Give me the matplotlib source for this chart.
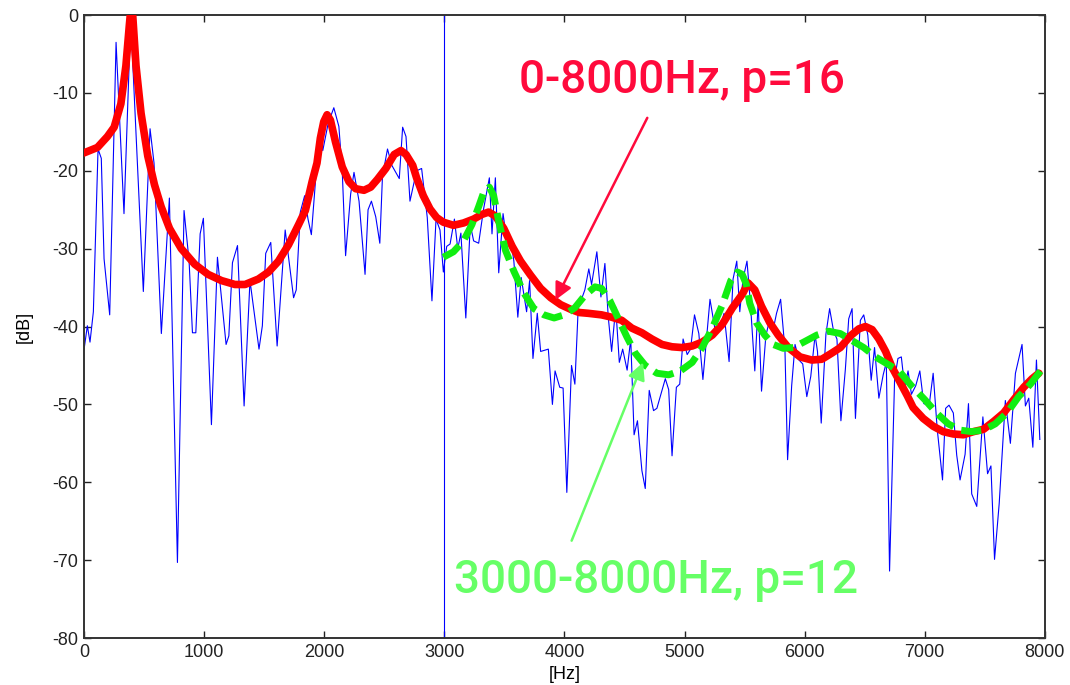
import matplotlib.pyplot as plt

# measured spectrum (FFT magnitude in dB), vertices of the thin blue trace
spec_f = [0, 28, 50, 78, 117, 144, 167, 214, 267, 333, 389, 494, 550, 583, 644,
          711, 778, 833, 875, 903, 931, 967, 994, 1061, 1111, 1183, 1206, 1236,
          1278, 1333, 1382, 1457, 1485, 1513, 1555, 1608, 1675, 1745, 1767, 1801,
          1837, 1865, 1893, 1927, 1960, 1988, 2033, 2080, 2122, 2150, 2178, 2220,
          2248, 2290, 2340, 2365, 2393, 2429, 2463, 2485, 2527, 2563, 2625, 2653,
          2681, 2714, 2769, 2811, 2858, 2897, 2931, 2964, 2992, 3020, 3048, 3084,
          3112, 3138, 3179, 3216, 3244, 3286, 3327, 3375, 3397, 3425, 3453, 3489,
          3523, 3551, 3579, 3612, 3640, 3685, 3710, 3738, 3774, 3802, 3866, 3900,
          3922, 3961, 3989, 4020, 4059, 4087, 4118, 4142, 4170, 4203, 4226, 4270,
          4304, 4337, 4365, 4393, 4427, 4457, 4485, 4522, 4552, 4580, 4608, 4645,
          4673, 4706, 4742, 4770, 4840, 4868, 4896, 4932, 4960, 4988, 5022, 5050,
          5083, 5119, 5153, 5212, 5253, 5287, 5329, 5371, 5404, 5435, 5460, 5487,
          5520, 5548, 5585, 5613, 5641, 5677, 5710, 5738, 5766, 5800, 5836, 5858,
          5892, 5920, 5953, 5984, 6018, 6051, 6087, 6107, 6138, 6177, 6208, 6241,
          6269, 6302, 6339, 6367, 6395, 6423, 6464, 6492, 6526, 6554, 6582, 6618,
          6654, 6680, 6707, 6749, 6777, 6805, 6833, 6861, 6889, 6925, 6959, 6992,
          7037, 7070, 7104, 7148, 7174, 7202, 7238, 7266, 7294, 7336, 7364, 7391,
          7433, 7484, 7523, 7551, 7581, 7620, 7671, 7713, 7755, 7810, 7838, 7866,
          7900, 7930, 7958]
spec_db = [-43.0, -39.9, -42.0, -38.1, -17.2, -18.4, -31.3, -38.5, -3.5, -25.5,
           -0.5, -35.5, -14.6, -19.0, -40.9, -23.5, -70.3, -25.1, -31.6, -40.8,
           -40.8, -28.1, -26.1, -52.6, -31.1, -42.3, -41.2, -31.8, -29.6, -50.2,
           -34.1, -42.9, -39.9, -30.6, -29.2, -42.5, -27.6, -36.3, -35.3, -25.3,
           -23.2, -26.2, -28.2, -21.4, -14.6, -17.4, -13.9, -11.9, -14.3, -20.0,
           -30.9, -23.0, -20.2, -23.9, -33.3, -25.0, -23.9, -25.9, -29.3, -20.7,
           -17.2, -19.3, -21.0, -14.4, -15.6, -23.9, -20.0, -19.7, -26.0, -36.7,
           -26.2, -27.6, -33.0, -29.7, -29.4, -26.2, -30.0, -28.0, -38.9, -26.9,
           -29.0, -29.3, -24.9, -20.9, -28.1, -20.9, -33.1, -25.5, -29.3, -28.6,
           -31.6, -38.8, -33.7, -38.1, -34.1, -44.1, -38.3, -43.2, -42.9, -50.0,
           -45.7, -47.8, -47.9, -61.3, -45.0, -47.4, -36.5, -36.5, -35.3, -32.6,
           -34.6, -30.4, -36.2, -31.9, -38.8, -43.2, -37.5, -44.6, -42.9, -45.6,
           -41.6, -53.9, -52.1, -58.5, -60.8, -48.2, -50.8, -50.5, -46.7, -48.1,
           -56.6, -47.8, -47.4, -41.6, -43.6, -42.9, -38.5, -40.9, -46.8, -36.5,
           -40.3, -40.6, -38.3, -44.5, -33.9, -31.6, -38.1, -33.9, -31.6, -36.9,
           -45.7, -36.9, -48.3, -41.2, -39.0, -40.4, -38.3, -36.5, -42.9, -57.1,
           -47.6, -42.3, -44.3, -44.8, -49.0, -46.4, -41.1, -43.2, -52.4, -41.0,
           -37.7, -40.6, -41.6, -52.1, -45.5, -39.0, -37.7, -51.8, -39.2, -38.5,
           -41.1, -46.9, -42.7, -49.2, -46.2, -44.6, -71.4, -46.7, -44.1, -43.9,
           -47.8, -45.7, -48.7, -47.6, -45.7, -49.9, -50.1, -46.0, -53.2, -59.7,
           -50.5, -50.1, -51.1, -56.5, -59.7, -56.4, -49.9, -61.5, -63.1, -51.6,
           -58.9, -57.9, -69.9, -62.7, -49.5, -55.0, -46.0, -42.3, -50.2, -49.2,
           -55.5, -44.3, -54.5]

# LPC envelope, order 16, fitted on 0-8000 Hz
lpc16_f = [0, 112, 195, 251, 307, 349, 377, 397, 433, 475, 531, 587, 642, 712,
           810, 922, 1033, 1145, 1257, 1341, 1452, 1536, 1619, 1703, 1787, 1843,
           1899, 1940, 1968, 1996, 2024, 2052, 2094, 2150, 2206, 2262, 2331, 2387,
           2443, 2513, 2583, 2639, 2681, 2737, 2769, 2825, 2881, 2936, 2992, 3076,
           3160, 3244, 3313, 3369, 3425, 3495, 3565, 3635, 3718, 3802, 3886, 3970,
           4054, 4124, 4198, 4309, 4393, 4477, 4561, 4645, 4728, 4812, 4896, 4980,
           5064, 5147, 5231, 5315, 5399, 5483, 5529, 5585, 5641, 5710, 5780, 5864,
           5962, 6059, 6143, 6227, 6297, 6381, 6451, 6506, 6562, 6618, 6674, 6730,
           6786, 6855, 6903, 6987, 7070, 7154, 7238, 7322, 7405, 7489, 7573, 7657,
           7741, 7824, 7894, 7950]
lpc16_db = [-17.7, -17.0, -15.6, -14.4, -11.4, -6.5, -1.4, 2.0, -6.5, -12.6,
            -18.1, -21.8, -24.6, -27.4, -30.0, -32.0, -33.3, -34.1, -34.6, -34.6,
            -33.9, -33.0, -31.6, -29.5, -26.9, -25.1, -21.4, -19.0, -15.8, -13.7,
            -12.8, -13.5, -16.3, -19.5, -21.4, -22.3, -22.5, -22.1, -21.1, -19.7,
            -17.9, -17.4, -17.9, -19.3, -20.9, -23.2, -24.9, -26.0, -26.6, -27.0,
            -26.7, -26.2, -25.6, -25.3, -25.8, -27.4, -29.7, -31.6, -33.4, -35.1,
            -36.3, -37.2, -37.8, -38.2, -38.3, -38.5, -38.8, -39.2, -40.2, -40.8,
            -41.6, -42.3, -42.6, -42.7, -42.5, -42.0, -41.1, -39.7, -37.6, -35.8,
            -34.4, -35.3, -37.4, -39.5, -41.1, -42.7, -43.9, -44.3, -44.2, -43.4,
            -42.7, -41.2, -40.3, -40.0, -40.4, -41.6, -43.2, -45.3, -46.9, -48.9,
            -50.4, -51.8, -52.8, -53.5, -53.8, -53.9, -53.5, -53.2, -52.2, -51.1,
            -49.4, -47.8, -46.7, -46.0]

# LPC envelope, order 12, fitted on 3000-8000 Hz only
lpc12_f = [2992, 3076, 3160, 3230, 3286, 3327, 3375, 3411, 3453, 3509, 3579,
           3663, 3746, 3830, 3914, 3998, 4086, 4170, 4254, 4309, 4379, 4449, 4519,
           4589, 4673, 4770, 4868, 4966, 5064, 5147, 5231, 5315, 5385, 5441, 5480,
           5515, 5543, 5599, 5668, 5738, 5822, 5906, 6004, 6101, 6199, 6297, 6395,
           6492, 6590, 6688, 6786, 6889, 7001, 7098, 7196, 7294, 7391, 7489, 7587,
           7685, 7782, 7880, 7964]
lpc12_db = [-31.1, -30.4, -29.0, -26.9, -24.6, -22.8, -22.1, -23.2, -26.5, -30.2,
            -32.9, -35.7, -37.7, -38.5, -38.9, -38.5, -37.6, -36.0, -34.9, -35.1,
            -36.7, -39.0, -41.3, -43.4, -45.0, -46.0, -46.2, -45.7, -44.6, -42.7,
            -40.2, -37.2, -34.1, -33.0, -33.3, -34.6, -37.0, -39.5, -41.1, -42.3,
            -42.8, -42.7, -41.9, -41.1, -40.6, -40.9, -41.8, -42.7, -43.9, -44.8,
            -45.7, -47.6, -49.4, -51.1, -52.5, -53.3, -53.5, -53.3, -52.5, -51.1,
            -49.0, -47.4, -45.7]

split_hz = 3000
x_ticks = [0, 1000, 2000, 3000, 4000, 5000, 6000, 7000, 8000]
y_ticks = [-80, -70, -60, -50, -40, -30, -20, -10, 0]

plt.rcParams['font.family'] = ['Liberation Sans', 'DejaVu Sans']
plt.rcParams['axes.unicode_minus'] = False

fig = plt.figure(figsize=(10.7, 6.85), dpi=100)
ax = fig.add_axes([0.0785, 0.0686, 0.898, 0.9094])

ax.plot(spec_f, spec_db, color='#0000ff', lw=0.8, zorder=2)
ax.plot([split_hz, split_hz], [-80, 0], color='#0000ff', lw=0.8, zorder=2)
ax.plot(lpc16_f, lpc16_db, color='#ff0000', lw=5.5, solid_capstyle='round',
        solid_joinstyle='round', zorder=3)
ax.plot(lpc12_f, lpc12_db, color='#11ee11', lw=5, dashes=(2.9, 1.2), zorder=4)

ax.set_xlim(0, 8000)
ax.set_ylim(-80, 0)
ax.set_xticks(x_ticks)
ax.set_yticks(y_ticks)
ax.tick_params(direction='in', top=True, right=True, length=5, width=1,
               labelsize=13, colors='#222222', pad=4)
for s in ax.spines.values():
    s.set_color('#333333')
    s.set_linewidth(1.4)
ax.set_xlabel('[Hz]', fontsize=13, labelpad=4)
ax.set_ylabel('[dB]', fontsize=13, labelpad=14)

# labels for the two envelopes
label_font = ['Roboto', 'Liberation Sans', 'DejaVu Sans']
arrow_red = dict(arrowstyle='-|>', color='#ff0a3c', lw=1.8,
                 mutation_scale=26, shrinkA=0, shrinkB=0)
arrow_green = dict(arrowstyle='-|>', color='#66ff66', lw=1.8,
                   mutation_scale=26, shrinkA=0, shrinkB=0)
ax.annotate('', xy=(3925, -36.6), xytext=(4690, -13.2),
            arrowprops=arrow_red, zorder=6)
ax.text(4980, -8.3, '0-8000Hz, p=16', fontsize=33, color='#ff0a3c',
        fontweight='medium', ha='center', va='center', zorder=6,
        family=label_font)

ax.annotate('', xy=(4655, -44.6), xytext=(4060, -67.5),
            arrowprops=arrow_green, zorder=6)
ax.text(4760, -72.6, '3000-8000Hz, p=12', fontsize=33, color='#66ff66',
        fontweight='medium', ha='center', va='center', zorder=6,
        family=label_font)

fig.savefig('out.png', dpi=100)
